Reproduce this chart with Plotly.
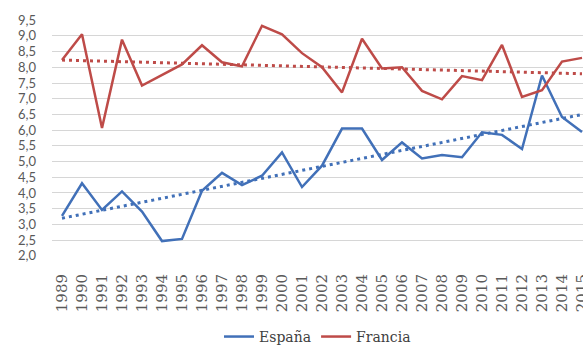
import numpy as np
import plotly.graph_objects as go

# Años y series
years = list(range(1989, 2016))
espana = [3.27, 4.31, 3.46, 4.05, 3.41, 2.47, 2.54, 4.07, 4.64, 4.25,
          4.55, 5.29, 4.19, 4.87, 6.05, 6.05, 5.05, 5.61, 5.10, 5.21,
          5.14, 5.93, 5.85, 5.40, 7.74, 6.42, 5.94]
francia = [8.23, 9.05, 6.07, 8.88, 7.42, 7.75, 8.09, 8.70, 8.16, 8.03,
           9.32, 9.05, 8.45, 8.00, 7.20, 8.91, 7.96, 8.00, 7.25, 6.98,
           7.72, 7.59, 8.71, 7.06, 7.27, 8.18, 8.30]

y_ticks = [2.0, 2.5, 3.0, 3.5, 4.0, 4.5, 5.0, 5.5, 6.0, 6.5, 7.0, 7.5, 8.0, 8.5, 9.0, 9.5]
y_ticktext = [f"{v:.1f}".replace(".", ",") for v in y_ticks]

BLUE = "#4170B8"
RED = "#BE4B48"

x = np.array(years, dtype=float)


def trend(values):
    slope, intercept = np.polyfit(x, np.array(values), 1)
    return slope * x + intercept


fig = go.Figure()

# Líneas de tendencia lineal (punteadas)
fig.add_trace(go.Scatter(x=years, y=trend(espana), mode="lines",
                         line=dict(color=BLUE, width=3, dash="3px,4px"),
                         showlegend=False, hoverinfo="skip"))
fig.add_trace(go.Scatter(x=years, y=trend(francia), mode="lines",
                         line=dict(color=RED, width=3, dash="3px,4px"),
                         showlegend=False, hoverinfo="skip"))

# Series principales
fig.add_trace(go.Scatter(x=years, y=espana, mode="lines", name="España",
                         line=dict(color=BLUE, width=2.5)))
fig.add_trace(go.Scatter(x=years, y=francia, mode="lines", name="Francia",
                         line=dict(color=RED, width=2.5)))

fig.update_layout(
    width=583, height=347,
    margin=dict(l=52, r=0, t=20, b=91, autoexpand=False),
    paper_bgcolor="white", plot_bgcolor="white",
    showlegend=True,
    legend=dict(orientation="h", x=0.5, xanchor="center",
                y=-0.343, yanchor="middle",
                font=dict(family="DejaVu Serif", size=14, color="#404040"),
                tracegroupgap=0),
    xaxis=dict(
        range=[1988.5, 2015.05],
        tickmode="array", tickvals=years, ticktext=[str(y) for y in years],
        tickangle=-90,
        tickfont=dict(family="DejaVu Serif", size=15, color="#595959"),
        showgrid=False, zeroline=False, showline=False, ticks="",
        ticklabelstandoff=14,
        ticklabeloverflow="allow",
        automargin=False,
    ),
    yaxis=dict(
        range=[1.995, 9.505],
        tickmode="array", tickvals=y_ticks, ticktext=y_ticktext,
        tickfont=dict(family="Lato", size=13, color="#595959"),
        showgrid=True, gridcolor="#D6D6D6", gridwidth=1.3,
        zeroline=False, showline=False, ticks="",
        ticklabelstandoff=15,
        automargin=False,
    ),
)

fig.write_html("out.html")
